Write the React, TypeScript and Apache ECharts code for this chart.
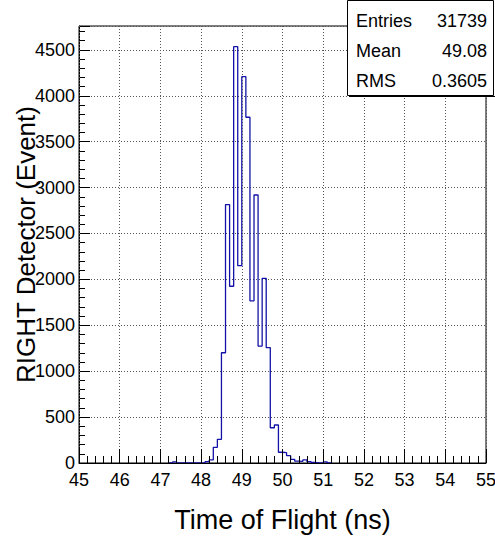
import React, { useEffect, useRef } from 'react';
import * as echarts from 'echarts';

// Histogram bins (lower edges, ns) and counts
const binWidth = 0.1;
const binLow = [
  47.2, 47.3, 47.4, 47.5, 47.6, 47.7, 47.8, 47.9, 48.0, 48.1,
  48.2, 48.3, 48.4, 48.5, 48.6, 48.7, 48.8, 48.9, 49.0, 49.1,
  49.2, 49.3, 49.4, 49.5, 49.6, 49.7, 49.8, 49.9, 50.0, 50.1,
  50.2, 50.3, 50.4, 50.5, 50.6, 50.7, 50.8, 50.9, 51.0, 51.1,
];
const counts = [
  0, 12, 0, 0, 0, 0, 0, 0, 0, 15,
  33, 171, 258, 1201, 2815, 1925, 4535, 2149, 4208, 3766,
  1767, 2919, 1274, 2012, 1256, 384, 414, 117, 112, 80,
  40, 20, 18, 33, 15, 6, 0, 0, 12, 0,
];

const xTicks = [45, 46, 47, 48, 49, 50, 51, 52, 53, 54, 55];
const yTickLabels = [0, 500, 1000, 1500, 2000, 2500, 3000, 3500, 4000, 4500];
const yMax = 4760;

const statsLabels = ['Entries', 'Mean', 'RMS'];
const statsValues = ['31739', '49.08', '0.3605'];

const FONT = '"Liberation Sans", Arial, Helvetica, sans-serif';

export default function App() {
  const ref = useRef<HTMLDivElement>(null);
  useEffect(() => {
    if (!ref.current) return;
    const chart = echarts.init(ref.current, null, { renderer: 'svg' });

    const pts: number[][] = [];
    for (let i = 0; i < binLow.length; i++) {
      const lo = binLow[i];
      const hi = +(lo + binWidth).toFixed(2);
      if (i === 0) pts.push([lo, 0]);
      pts.push([lo, counts[i]]);
      pts.push([hi, counts[i]]);
    }
    pts.push([+(binLow[binLow.length - 1] + binWidth).toFixed(2), 0]);

    const statsGraphics: any[] = [
      {
        type: 'rect',
        shape: { x: 347.5, y: 0.5, width: 146, height: 95 },
        style: { fill: '#fff', stroke: '#000', lineWidth: 1 },
        z: 100,
      },
      {
        type: 'line',
        shape: { x1: 349, y1: 96.5, x2: 495, y2: 96.5 },
        style: { stroke: '#000', lineWidth: 1 },
        z: 100,
      },
    ];
    const rowY = [20.5, 51, 81];
    statsLabels.forEach((lab, i) => {
      statsGraphics.push({
        type: 'text',
        x: 356,
        y: rowY[i],
        z: 101,
        style: {
          text: lab,
          fill: '#000',
          font: `18px ${FONT}`,
          textAlign: 'left',
          textVerticalAlign: 'middle',
        },
      });
      statsGraphics.push({
        type: 'text',
        x: 487,
        y: rowY[i],
        z: 101,
        style: {
          text: statsValues[i],
          fill: '#000',
          font: `18px ${FONT}`,
          textAlign: 'right',
          textVerticalAlign: 'middle',
        },
      });
    });

    const gridLine = { show: true, lineStyle: { color: '#555', type: [1, 2] as any, width: 1 } };

    chart.setOption({
      animation: false,
      backgroundColor: '#fff',
      textStyle: { fontFamily: FONT },
      grid: {
        left: 79,
        right: 9,
        top: 26,
        bottom: 74,
        containLabel: false,
        outerBoundsMode: 'none',
        show: true,
        borderColor: '#000',
        borderWidth: 1,
        backgroundColor: 'transparent',
      },
      xAxis: {
        type: 'value',
        min: xTicks[0],
        max: xTicks[xTicks.length - 1],
        interval: 1,
        z: 3,
        name: 'Time of Flight (ns)',
        nameLocation: 'middle',
        nameGap: 43,
        nameTextStyle: { fontSize: 27, color: '#000', fontFamily: FONT },
        axisLine: { show: true, onZero: false, lineStyle: { color: '#000', width: 1 } },
        axisTick: { show: true, inside: true, length: 14, lineStyle: { color: '#000' } },
        minorTick: { show: true, splitNumber: 5, length: 7, lineStyle: { color: '#000' } },
        axisLabel: { fontSize: 18, color: '#000', margin: 8, fontFamily: FONT },
        splitLine: gridLine,
      },
      yAxis: [
        {
          type: 'value',
          min: 0,
          max: yMax,
          interval: 500,
          position: 'left',
          name: 'RIGHT Detector (Event)',
          nameLocation: 'middle',
          nameGap: 40,
          nameMoveOverlap: false,
          nameTextStyle: { fontSize: 26, color: '#000', fontFamily: FONT },
          axisLine: { show: true, onZero: false, lineStyle: { color: '#000', width: 1 } },
          axisTick: { show: true, inside: true, length: 11, lineStyle: { color: '#000' } },
          axisLabel: {
            fontSize: 18,
            color: '#000',
            margin: 4,
            fontFamily: FONT,
            formatter: (v: number) => (yTickLabels.indexOf(v) >= 0 ? String(v) : ''),
          },
          splitLine: gridLine,
        },
        {
          type: 'value',
          min: 0,
          max: yMax,
          interval: 100,
          position: 'left',
          axisLine: { show: false, onZero: false },
          axisTick: { show: true, inside: true, length: 6, lineStyle: { color: '#000' } },
          axisLabel: { show: false },
          splitLine: { show: false },
        },
      ],
      series: [
        {
          type: 'line',
          data: pts,
          yAxisIndex: 0,
          showSymbol: false,
          symbol: 'none',
          lineStyle: { color: '#1212a8', width: 1.3 },
          z: 2,
        },
      ],
      graphic: statsGraphics,
    });
    return () => chart.dispose();
  }, []);
  return (
    <div
      ref={ref}
      style={{ position: 'fixed', left: 0, top: 0, width: 495, height: 537 }}
    />
  );
}
